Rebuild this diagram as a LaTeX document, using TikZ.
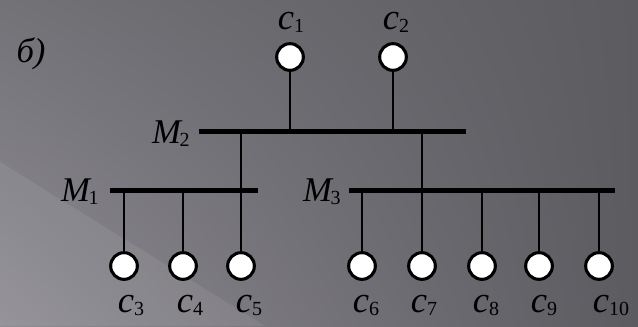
\documentclass[tikz,border=0pt]{standalone}
\usepackage{fontspec}
\setmainfont{Liberation Serif}
\usetikzlibrary{shadings}
\definecolor{bgdark}{HTML}{5C5B60}
\definecolor{bglight}{HTML}{8E8C93}
\definecolor{bgmid}{HTML}{737277}
\tikzset{
  bus/.style={line width=3.75pt},
  tap/.style={line width=1.8pt},
  station/.style={circle, draw=black, fill=white, line width=2.3pt,
    inner sep=0pt, minimum size=20pt},
  lbl/.style={font=\fontsize{26}{30}\selectfont\itshape, inner sep=0pt}
}
\newcommand{\subidx}[1]{\raisebox{-2.5pt}{\fontsize{15}{15}\selectfont\upshape #1}}
\newcommand{\cname}[1]{{\fontsize{27.5}{30}\selectfont c}\subidx{#1}}
\newcommand{\mname}[1]{M\kern-1pt\subidx{#1}}
\begin{document}
\begin{tikzpicture}[x=0.75pt, y=-0.75pt]
  % background
  \useasboundingbox (0,0) rectangle (638,326);
  \shade[upper left=bgmid, upper right=bgdark, lower left=bglight, lower right=bgdark]
    (0,0) rectangle (638,326);
  \fill[white, opacity=0.07] (0,162) -- (265,326) -- (0,326) -- cycle;

  % label
  \node[lbl, anchor=base] (tag) at (31,62) {б)};

  % buses
  \coordinate (m2w) at (199,131.5);
  \coordinate (m2e) at (466,131.5);
  \coordinate (m1w) at (110,190.5);
  \coordinate (m1e) at (258,190.5);
  \coordinate (m3w) at (349,190.5);
  \coordinate (m3e) at (615,190.5);
  \draw[bus] (m2w) -- (m2e);
  \draw[bus] (m1w) -- (m1e);
  \draw[bus] (m3w) -- (m3e);
  \node[lbl, anchor=base east] (M2) at (190,143) {\mname{2}};
  \node[lbl, anchor=base east] (M1) at (99,201) {\mname{1}};
  \node[lbl, anchor=base east] (M3) at (341,201) {\mname{3}};

  % top stations
  \node[station] (c1) at (290,57) {};
  \node[station] (c2) at (393,57) {};
  \node[lbl, anchor=base] (l1) at (291,29.5) {\cname{1}};
  \node[lbl, anchor=base] (l2) at (396,29.5) {\cname{2}};
  \draw[tap] (c1) -- (c1 |- m2w);
  \draw[tap] (c2) -- (c2 |- m2w);

  % bottom stations
  \foreach \i/\x/\lx in {3/124/131, 4/183/190, 5/241/249, 6/362/366,
      7/422/424, 8/482/486, 9/539/544, 10/599/611} {
    \node[station] (c\i) at (\x,266) {};
    \node[lbl, anchor=base] (l\i) at (\lx,312) {\cname{\i}};
  }
  \foreach \i in {3,4,5} \draw[tap] (c\i) -- (c\i |- m1w);
  \foreach \i in {6,...,10} \draw[tap] (c\i) -- (c\i |- m3w);

  % links between buses
  \draw[tap] (c5 |- m2w) -- (c5 |- m1w);
  \draw[tap] (c7 |- m2w) -- (c7 |- m3w);
\end{tikzpicture}
\end{document}
